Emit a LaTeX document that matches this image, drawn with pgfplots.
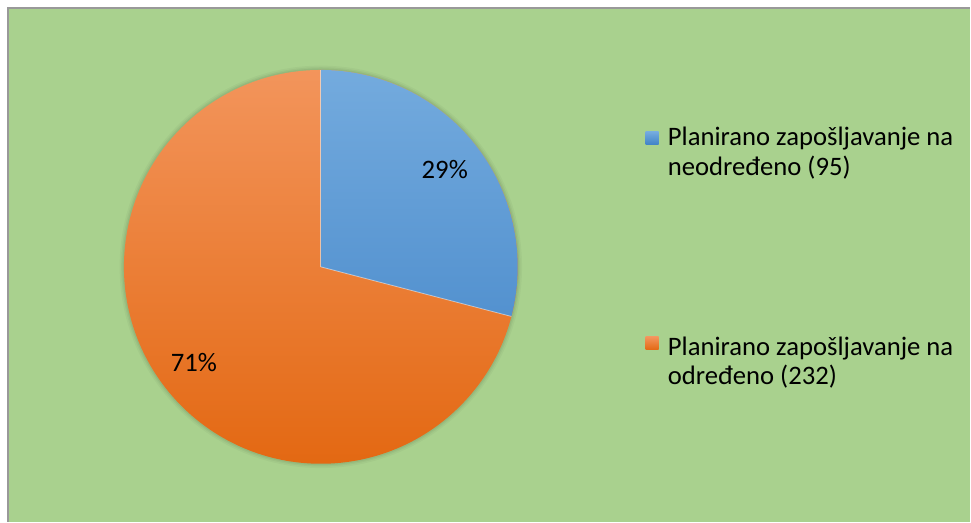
\documentclass[border=0pt]{standalone}
\usepackage{pgfplots}
\pgfplotsset{compat=1.18}
\usepackage{fontspec}
\setmainfont{Carlito}
\definecolor{bg}{HTML}{A9D18E}
\definecolor{blueTop}{HTML}{74ABDE}
\definecolor{blueBot}{HTML}{3F82C6}
\definecolor{orTop}{HTML}{F3955C}
\definecolor{orBot}{HTML}{E36812}
\begin{document}
\begin{tikzpicture}
\pgfmathsetmacro{\vA}{95}
\pgfmathsetmacro{\vB}{232}
\pgfmathsetmacro{\angA}{90-360*(\vA/(\vA+\vB))}
\def\R{147.75pt}
\begin{axis}[scale only axis, width=728.25pt, height=391.5pt,
  xmin=0, xmax=971, ymin=0, ymax=522, hide axis, clip=false]
  % background
  \fill[white] (axis cs:0,0) rectangle (axis cs:971,522);
  \fill[bg] (axis cs:8,0) rectangle (axis cs:971,514);
  \draw[black!40, line width=0.8pt] (axis cs:8,0) -- (axis cs:8,514) -- (axis cs:971,514);
  % soft shadow
  \fill[black, opacity=0.03] (axis cs:321,255) circle[radius=151pt];
  \fill[black, opacity=0.04] (axis cs:321,255) circle[radius=149.8pt];
  \fill[black, opacity=0.05] (axis cs:321,255) circle[radius=148.8pt];
  % orange slice
  \begin{scope}
    \clip (axis cs:321,255) -- ++(90:\R) arc[start angle=90, end angle=\angA-360, radius=\R] -- cycle;
    \shade[top color=orTop, bottom color=orBot] (axis cs:120,55) rectangle (axis cs:522,455);
  \end{scope}
  % blue slice
  \begin{scope}
    \clip (axis cs:321,255) -- ++(90:\R) arc[start angle=90, end angle=\angA, radius=\R] -- cycle;
    \shade[top color=blueTop, bottom color=blueBot] (axis cs:120,55) rectangle (axis cs:522,455);
  \end{scope}
  \draw[white, opacity=0.5, line width=0.6pt] (axis cs:321,255) -- ++(90:\R);
  \draw[white, opacity=0.5, line width=0.6pt] (axis cs:321,255) -- ++(\angA:\R);
  % data labels
  \node[anchor=base, font=\fontsize{20}{24}\selectfont] at (axis cs:445,343) {29\%};
  \node[anchor=base, font=\fontsize{20}{24}\selectfont] at (axis cs:194,150.3) {71\%};
  % legend
  \shade[top color=blueTop, bottom color=blueBot] (axis cs:646,377) rectangle (axis cs:659,390);
  \shade[top color=orTop, bottom color=orBot] (axis cs:646,172) rectangle (axis cs:659,185);
  \node[anchor=base west, inner sep=0pt, font=\fontsize{20}{24}\selectfont] at (axis cs:668,376.3) {Planirano zapošljavanje na};
  \node[anchor=base west, inner sep=0pt, font=\fontsize{20}{24}\selectfont] at (axis cs:668,346.3) {neodređeno (95)};
  \node[anchor=base west, inner sep=0pt, font=\fontsize{20}{24}\selectfont] at (axis cs:668,166.3) {Planirano zapošljavanje na};
  \node[anchor=base west, inner sep=0pt, font=\fontsize{20}{24}\selectfont] at (axis cs:668,137) {određeno (232)};
\end{axis}
\end{tikzpicture}
\end{document}
